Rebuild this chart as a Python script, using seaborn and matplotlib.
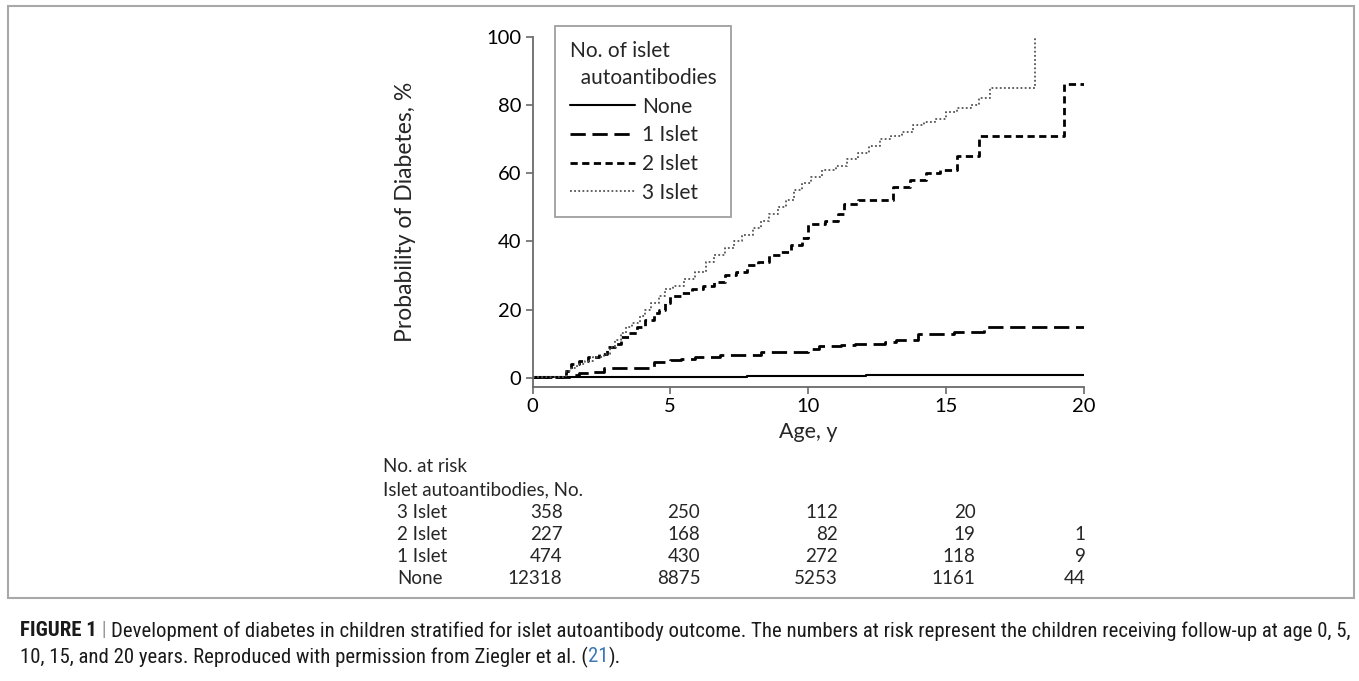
import numpy as np
import pandas as pd
import matplotlib
matplotlib.use("Agg")
import matplotlib.pyplot as plt
import matplotlib.transforms as mtrans
from matplotlib import font_manager as fm
from matplotlib.lines import Line2D
from matplotlib.patches import Rectangle
import seaborn as sns

# ---------------- data ----------------
groups = ["None", "1 Islet", "2 Islet", "3 Islet"]

none_t = [0, 7.8, 12.1, 20]
none_p = [0.3, 0.5, 0.8, 0.8]

islet1_t = [0, 1.4, 1.7, 2.1, 2.6, 3.6, 4.4, 5.0, 5.4, 5.9, 6.8, 8.3, 10.0, 10.4,
            11.2, 11.7, 12.8, 13.2, 14.0, 15.3, 16.4, 20]
islet1_p = [0.3, 0.8, 1.3, 1.8, 2.8, 3.0, 4.7, 5.2, 5.6, 6.0, 6.7, 7.6, 8.3, 9.2,
            9.6, 10.0, 10.5, 11.0, 12.8, 13.3, 15.0, 15.0]

islet2_t = [0, 1.2, 1.4, 1.7, 2.0, 2.4, 2.7, 3.0, 3.2, 3.5, 3.8, 4.1, 4.4, 4.6, 4.8,
            5.0, 5.4, 5.8, 6.2, 6.6, 7.0, 7.4, 7.8, 8.2, 8.6, 9.0, 9.4, 9.8, 10.0,
            10.6, 11.1, 11.3, 11.8, 13.1, 13.7, 14.3, 14.8, 15.4, 16.2, 19.3, 20]
islet2_p = [0.3, 2, 4, 5, 6, 7, 9, 10, 12, 13, 15, 17, 19, 20, 22,
            24, 25, 26, 27, 28, 30, 31, 33, 34, 36, 37, 39, 41, 45,
            46, 48, 51, 52, 56, 58, 60, 61, 65, 71, 86, 86]

islet3_t = [0, 1.2, 1.4, 1.6, 1.9, 2.2, 2.6, 2.8, 3.0, 3.2, 3.4, 3.6, 3.9, 4.1, 4.3,
            4.6, 4.8, 5.1, 5.5, 5.9, 6.3, 6.6, 7.0, 7.3, 7.6, 8.0, 8.3, 8.6, 8.9,
            9.2, 9.5, 9.8, 10.1, 10.5, 11.0, 11.4, 11.8, 12.2, 12.6, 13.0, 13.4,
            13.8, 14.2, 14.6, 15.0, 15.4, 15.9, 16.2, 16.6, 18.25]
islet3_p = [0.3, 2, 3, 4, 5, 6, 7, 9, 11, 13, 15, 16, 18, 20, 22,
            24, 26, 27, 29, 31, 34, 36, 38, 40, 42, 44, 46, 48, 50,
            52, 55, 57, 59, 61, 62, 64, 66, 68, 70, 71, 72,
            74, 75, 76, 78, 79, 80, 82, 85, 100]

x_ticks = [0, 5, 10, 15, 20]
y_ticks = [0, 20, 40, 60, 80, 100]

risk_times = [0, 5, 10, 15, 20]
risk_rows = ["3 Islet", "2 Islet", "1 Islet", "None"]
risk_3 = [358, 250, 112, 20, None]
risk_2 = [227, 168, 82, 19, 1]
risk_1 = [474, 430, 272, 118, 9]
risk_none = [12318, 8875, 5253, 1161, 44]

caption_1 = ("Development of diabetes in children stratified for islet autoantibody outcome. "
             "The numbers at risk represent the children receiving follow-up at age 0, 5,")
caption_2a = "10, 15, and 20 years. Reproduced with permission from Ziegler et al. ("
caption_2b = "21"
caption_2c = ")."

# ---------------- build long table ----------------
series = {"None": (none_t, none_p), "1 Islet": (islet1_t, islet1_p),
          "2 Islet": (islet2_t, islet2_p), "3 Islet": (islet3_t, islet3_p)}
rows = []
for g in groups:
    t, p = series[g]
    for a, b in zip(t, p):
        rows.append({"age": a, "prob": b, "group": g})
df = pd.DataFrame(rows)

# ---------------- style ----------------
sns.set_theme(style="ticks")
FONT = ["Lato", "DejaVu Sans"]
plt.rcParams["font.family"] = FONT

W, H = 1359, 681
fig = plt.figure(figsize=(W / 100, H / 100), dpi=100)

def fx(px):
    return px / W

def fy(py):
    return 1 - py / H

# axes: x 0->532.5px, 20->1083.5px ; y 100->36.7px, bottom spine 387px
ax_l, ax_r = 532.5, 1083.5
ax_t, ax_b = 36.7, 387.0
ax = fig.add_axes([fx(ax_l), fy(ax_b), fx(ax_r - ax_l), (ax_b - ax_t) / H])

palette = {"None": "black", "1 Islet": "black", "2 Islet": "black", "3 Islet": "#555555"}
dashes = {"None": "", "1 Islet": (5.5, 2.4), "2 Islet": (2.6, 1.6), "3 Islet": (1.0, 1.3)}
sizes = {"None": 1.5, "1 Islet": 2.0, "2 Islet": 2.0, "3 Islet": 1.3}

sns.lineplot(data=df, x="age", y="prob", hue="group", style="group", size="group",
             hue_order=groups, style_order=groups, size_order=groups,
             palette=palette, dashes=dashes, sizes=sizes, estimator=None,
             drawstyle="steps-post", legend=False, ax=ax)

ax.set_xlim(0, 20)
ax.set_ylim(-2.7, 100)
ax.set_xticks(x_ticks)
ax.set_yticks(y_ticks)
ax.set_xlabel("Age, y", fontsize=15.5, labelpad=5)
ax.set_ylabel("Probability of Diabetes, %", fontsize=16.5)
ax.yaxis.set_label_coords((416 - ax_l) / (ax_r - ax_l), 0.5)
sns.despine(ax=ax)
for s in ["left", "bottom"]:
    ax.spines[s].set_color("#6a6a6a")
    ax.spines[s].set_linewidth(1.3)
ax.tick_params(direction="out", length=5, width=1.2, color="#6a6a6a",
               labelsize=14.5, pad=3, labelcolor="black")

# legend
handles = []
for g in groups:
    h = Line2D([], [], color=palette[g], lw=sizes[g], linestyle="-")
    if dashes[g]:
        h.set_dashes(dashes[g])
    handles.append(h)
leg = ax.legend(handles, groups, title="No. of islet\n  autoantibodies",
                loc="upper left", bbox_to_anchor=(fx(555), fy(26)),
                bbox_transform=fig.transFigure, frameon=True, fancybox=False,
                edgecolor="#888888", fontsize=15, title_fontsize=15,
                handlelength=3.15, handletextpad=0.35, labelspacing=0.42,
                borderpad=0.7, borderaxespad=0, alignment="left")
leg.get_title().set_linespacing(1.45)
leg.get_frame().set_linewidth(1.3)

# ---------------- risk table ----------------
bt = mtrans.blended_transform_factory(ax.transData, fig.transFigure)
TS = 13.5
fig.text(fx(383), fy(467), "No. at risk", fontsize=TS, va="center", ha="left")
fig.text(fx(383), fy(490), "Islet autoantibodies, No.", fontsize=TS, va="center", ha="left")
row_y = [513, 535, 557, 579]
risk_vals = [risk_3, risk_2, risk_1, risk_none]
col_off = [30, 30, 30, 30, 2]
for name, yy, vals in zip(risk_rows, row_y, risk_vals):
    fig.text(fx(397), fy(yy), name, fontsize=TS, va="center", ha="left")
    for t, v, off in zip(risk_times, vals, col_off):
        if v is None:
            continue
        ax.annotate(str(v), xy=(t, fy(yy)), xycoords=bt, xytext=(off, 0),
                    textcoords="offset pixels", ha="right", va="center",
                    fontsize=TS, annotation_clip=False)

# ---------------- border ----------------
fig.patches.append(Rectangle((fx(8), fy(598)), fx(1354 - 8), (598 - 6) / H,
                             transform=fig.transFigure, fill=False,
                             edgecolor="#a8a8a8", lw=1.5))

# ---------------- caption (condensed sans if available) ----------------
cap_family = None
cap_stretch = "normal"
names = {f.name for f in fm.fontManager.ttflist}
for nm in ["Liberation Sans Narrow", "Arial Narrow", "Roboto Condensed",
           "Open Sans Condensed", "Noto Sans Condensed", "DejaVu Sans Condensed"]:
    if nm in names:
        cap_family = nm
        break
if cap_family is None:
    for f in fm.fontManager.ttflist:
        if f.stretch in ("condensed", "semi-condensed", 500, 600, 625) and \
                ("Sans" in f.name or "Roboto" in f.name):
            cap_family = f.name
            cap_stretch = "condensed"
            break
if cap_family is None:
    cap_family = "DejaVu Sans"
CAP = [cap_family, "DejaVu Sans"]

fig.canvas.draw()
r = fig.canvas.get_renderer()

def put_pieces(x0, y0, pieces, size):
    x = x0
    for txt, kw in pieces:
        t = fig.text(fx(x), fy(y0), txt, fontsize=size, va="center", ha="left",
                     family=CAP, stretch=cap_stretch, color=kw.get("color", "#1a1a1a"),
                     weight=kw.get("weight", "normal"))
        bb = t.get_window_extent(renderer=r)
        x += bb.width
    return x

line1 = [("FIGURE 1", {"weight": "bold"}), (" | ", {"color": "#9a9a9a"}),
         (caption_1, {})]
probe = fig.text(0, 0, "FIGURE 1 | " + caption_1, fontsize=10, family=CAP,
                 stretch=cap_stretch)
w10 = probe.get_window_extent(renderer=r).width
probe.remove()
cap_size = 10 * (1338 - 20) / w10
put_pieces(20, 631, line1, cap_size)
put_pieces(20, 657, [(caption_2a, {}), (caption_2b, {"color": "#3b78b5"}),
                     (caption_2c, {})], cap_size)

fig.savefig("out.png", dpi=100)
